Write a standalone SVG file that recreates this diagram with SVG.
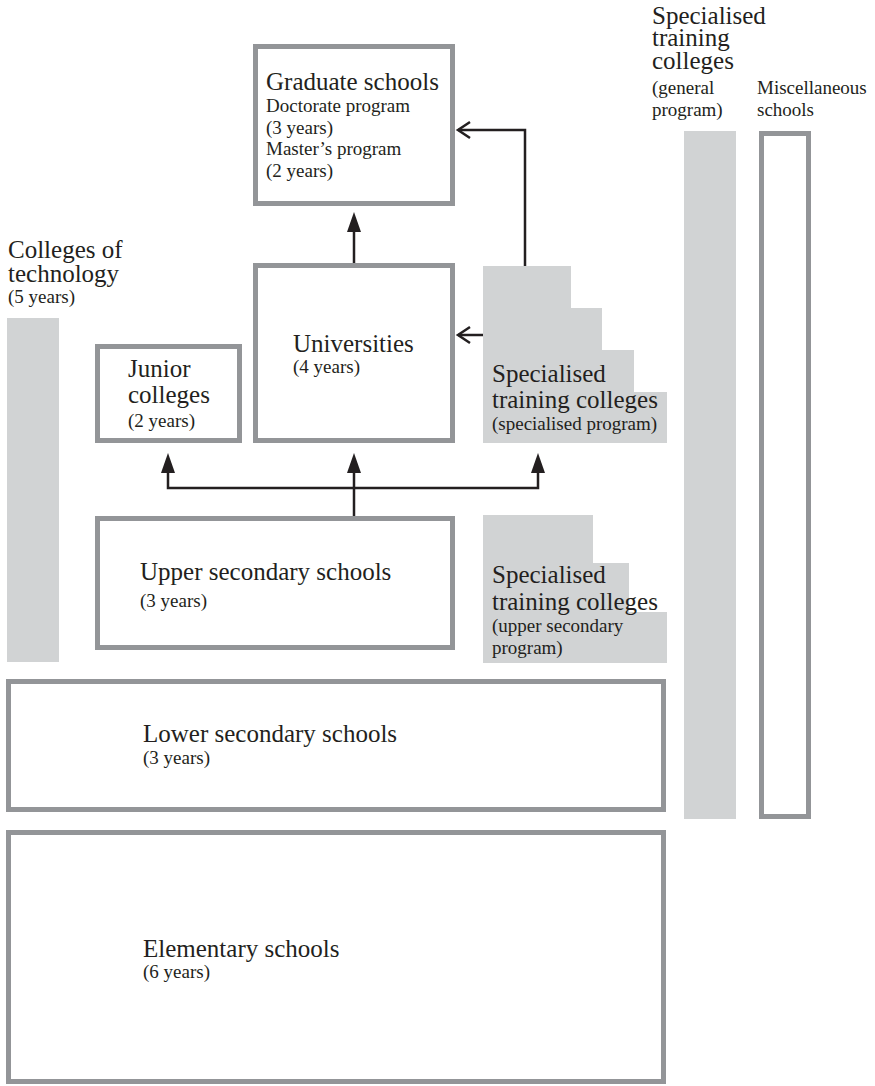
<svg xmlns="http://www.w3.org/2000/svg" width="875" height="1086" viewBox="0 0 875 1086">
<style>
.box{fill:#fff;stroke:#939598;stroke-width:5}
.shade{fill:#d1d3d4;stroke:none}
.t{font-size:25px;font-family:'Liberation Serif','Times New Roman','DejaVu Serif',serif;fill:#231f20}
.s{font-size:19px;font-family:'Liberation Serif','Times New Roman','DejaVu Serif',serif;fill:#231f20}
.ln{fill:none;stroke:#231f20;stroke-width:2.5}
</style>
<defs>
<marker id="solid" viewBox="0 0 20 14" refX="0" refY="7" markerWidth="20" markerHeight="14" markerUnits="userSpaceOnUse" orient="auto-start-reverse">
<path d="M0,0 L20,7 L0,14 Z" fill="#231f20"/>
</marker>
<marker id="open" viewBox="-2 -2 16 20" refX="12" refY="8" markerWidth="16" markerHeight="20" markerUnits="userSpaceOnUse" orient="auto" overflow="visible">
<path d="M0,0 L12,8 L0,16" fill="none" stroke="#231f20" stroke-width="2.5"/>
</marker>
</defs>
<rect width="875" height="1086" fill="#fff"/>

<g id="graduate-schools">
<rect class="box" x="255.5" y="46.5" width="197" height="157"/>
<text class="t" x="266" y="90">Graduate schools</text>
<text class="s" x="266" y="112">Doctorate program</text>
<text class="s" x="266" y="134">(3 years)</text>
<text class="s" x="266" y="155">Master’s program</text>
<text class="s" x="266" y="177">(2 years)</text>
</g>

<g id="universities">
<rect class="box" x="255.5" y="265.5" width="197" height="175"/>
<text class="t" x="293" y="352">Universities</text>
<text class="s" x="293" y="373">(4 years)</text>
</g>

<g id="junior-colleges">
<rect class="box" x="97.5" y="346.5" width="142" height="94"/>
<text class="t" x="128" y="377">Junior</text>
<text class="t" x="128" y="403">colleges</text>
<text class="s" x="128" y="427">(2 years)</text>
</g>

<g id="specialised-program">
<polygon class="shade" points="483,266 571,266 571,308 602,308 602,350 634,350 634,392 667,392 667,443 483,443"/>
<text class="t" x="492" y="382">Specialised</text>
<text class="t" x="492" y="408">training colleges</text>
<text class="s" x="492" y="430">(specialised program)</text>
</g>

<g id="colleges-of-technology">
<rect class="shade" x="7" y="318" width="52" height="344"/>
<text class="t" x="8" y="258">Colleges of</text>
<text class="t" x="8" y="282">technology</text>
<text class="s" x="8" y="303">(5 years)</text>
</g>

<g id="upper-secondary-schools">
<rect class="box" x="97.5" y="518.5" width="355" height="129"/>
<text class="t" x="140" y="580">Upper secondary schools</text>
<text class="s" x="140" y="607">(3 years)</text>
</g>

<g id="upper-secondary-program">
<polygon class="shade" points="483,515 593,515 593,563 629,563 629,612 667,612 667,663 483,663"/>
<text class="t" x="492" y="583">Specialised</text>
<text class="t" x="492" y="610">training colleges</text>
<text class="s" x="492" y="632">(upper secondary</text>
<text class="s" x="492" y="654">program)</text>
</g>

<g id="lower-secondary-schools">
<rect class="box" x="8.5" y="681.5" width="655" height="128"/>
<text class="t" x="143" y="742">Lower secondary schools</text>
<text class="s" x="143" y="764">(3 years)</text>
</g>

<g id="elementary-schools">
<rect class="box" x="8.5" y="832.5" width="655" height="249"/>
<text class="t" x="143" y="957">Elementary schools</text>
<text class="s" x="143" y="978">(6 years)</text>
</g>

<g id="general-program">
<rect class="shade" x="684" y="131" width="52" height="688"/>
<text class="t" x="652" y="24">Specialised</text>
<text class="t" x="652" y="46">training</text>
<text class="t" x="652" y="69">colleges</text>
<text class="s" x="652" y="94">(general</text>
<text class="s" x="652" y="116">program)</text>
</g>

<g id="miscellaneous-schools">
<rect class="box" x="761.5" y="133.5" width="47" height="683"/>
<text class="s" x="757" y="94">Miscellaneous</text>
<text class="s" x="757" y="116">schools</text>
</g>

<g id="connectors">
<path class="ln" d="M354,516 V473" marker-end="url(#solid)"/>
<path class="ln" d="M168,473 V488 H538 V473" marker-start="url(#solid)" marker-end="url(#solid)"/>
<path class="ln" d="M354,263 V232" marker-end="url(#solid)"/>
<path class="ln" d="M525,266 V130 H458" marker-end="url(#open)"/>
<path class="ln" d="M483,335 H458" marker-end="url(#open)"/>
</g>
</svg>
